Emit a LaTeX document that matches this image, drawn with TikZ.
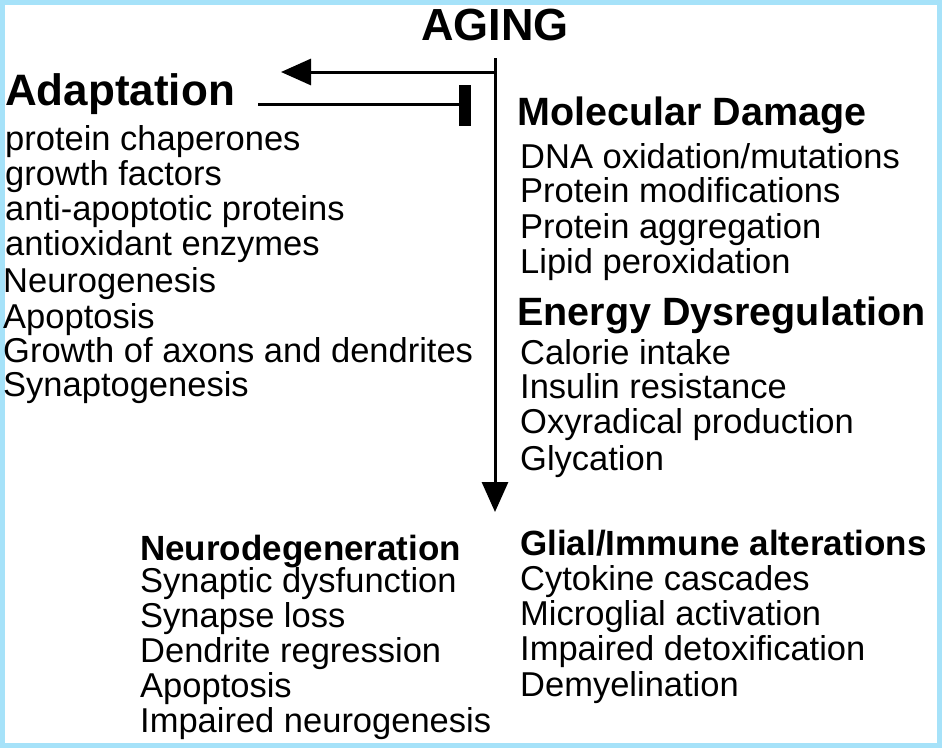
\documentclass[tikz,border=0pt]{standalone}
\usepackage{fontspec}
\setmainfont{Liberation Sans}
\usetikzlibrary{arrows.meta}
\begin{document}
\begin{tikzpicture}[x=1pt,y=-1pt,
  txt/.style={anchor=base west,inner sep=0pt,font=\fontsize{34.5}{36}\selectfont},
  hd/.style={anchor=base west,inner sep=0pt,font=\fontsize{39.5}{40}\selectfont\bfseries},
  ln/.style={line width=3pt}]
\fill[cyan!35] (0,0) rectangle (942,748);
\fill[white] (5,5) rectangle (937,743);
\node[anchor=base,inner sep=0pt,font=\fontsize{45}{46}\selectfont\bfseries] (aging) at (495,40) {AGING};
\node[hd,font=\fontsize{44}{46}\selectfont\bfseries] (adapt) at (5,105) {Adaptation};
\foreach \t/\y/\x [count=\i] in {protein chaperones/150/5,growth factors/185/5,anti-apoptotic proteins/220/5,antioxidant enzymes/255/5,Neurogenesis/292/3,Apoptosis/328/3,Growth of axons and dendrites/362/3,Synaptogenesis/396/3}
  \node[txt] (a\i) at (\x,\y) {\t};
\node[hd] (mol) at (517,125) {Molecular Damage};
\foreach \t/\y [count=\i] in {{DNA oxidation/mutations}/168,Protein modifications/202,Protein aggregation/238,Lipid peroxidation/273}
  \node[txt] (m\i) at (520,\y) {\t};
\node[hd] (en) at (517,325) {Energy Dysregulation};
\foreach \t/\y [count=\i] in {Calorie intake/364,Insulin resistance/398,Oxyradical production/433,Glycation/470}
  \node[txt] (e\i) at (520,\y) {\t};
\node[hd,font=\fontsize{35}{36}\selectfont\bfseries] (neuro) at (140,560) {Neurodegeneration};
\foreach \t/\y [count=\i] in {Synaptic dysfunction/592,Synapse loss/627,Dendrite regression/662,Apoptosis/697,Impaired neurogenesis/732}
  \node[txt] (n\i) at (140,\y) {\t};
\node[hd,font=\fontsize{35}{36}\selectfont\bfseries] (glia) at (520,555) {{Glial/Immune alterations}};
\foreach \t/\y [count=\i] in {Cytokine cascades/590,Microglial activation/625,Impaired detoxification/660,Demyelination/696}
  \node[txt] (g\i) at (520,\y) {\t};
\coordinate (top) at (495,58);
\coordinate (bot) at (495,512);
\coordinate (left1) at (281,72);
\coordinate (r1) at (495,72);
\coordinate (s2) at (258,104);
\coordinate (e2) at (462,104);
\draw[ln,-{Triangle[length=30pt,width=26pt]}] (top) -- (bot);
\draw[ln,-{Triangle[length=30pt,width=26pt]}] (r1) -- (left1);
\draw[ln] (s2) -- (e2);
\fill (459,85) rectangle (471,126);
\end{tikzpicture}
\end{document}
